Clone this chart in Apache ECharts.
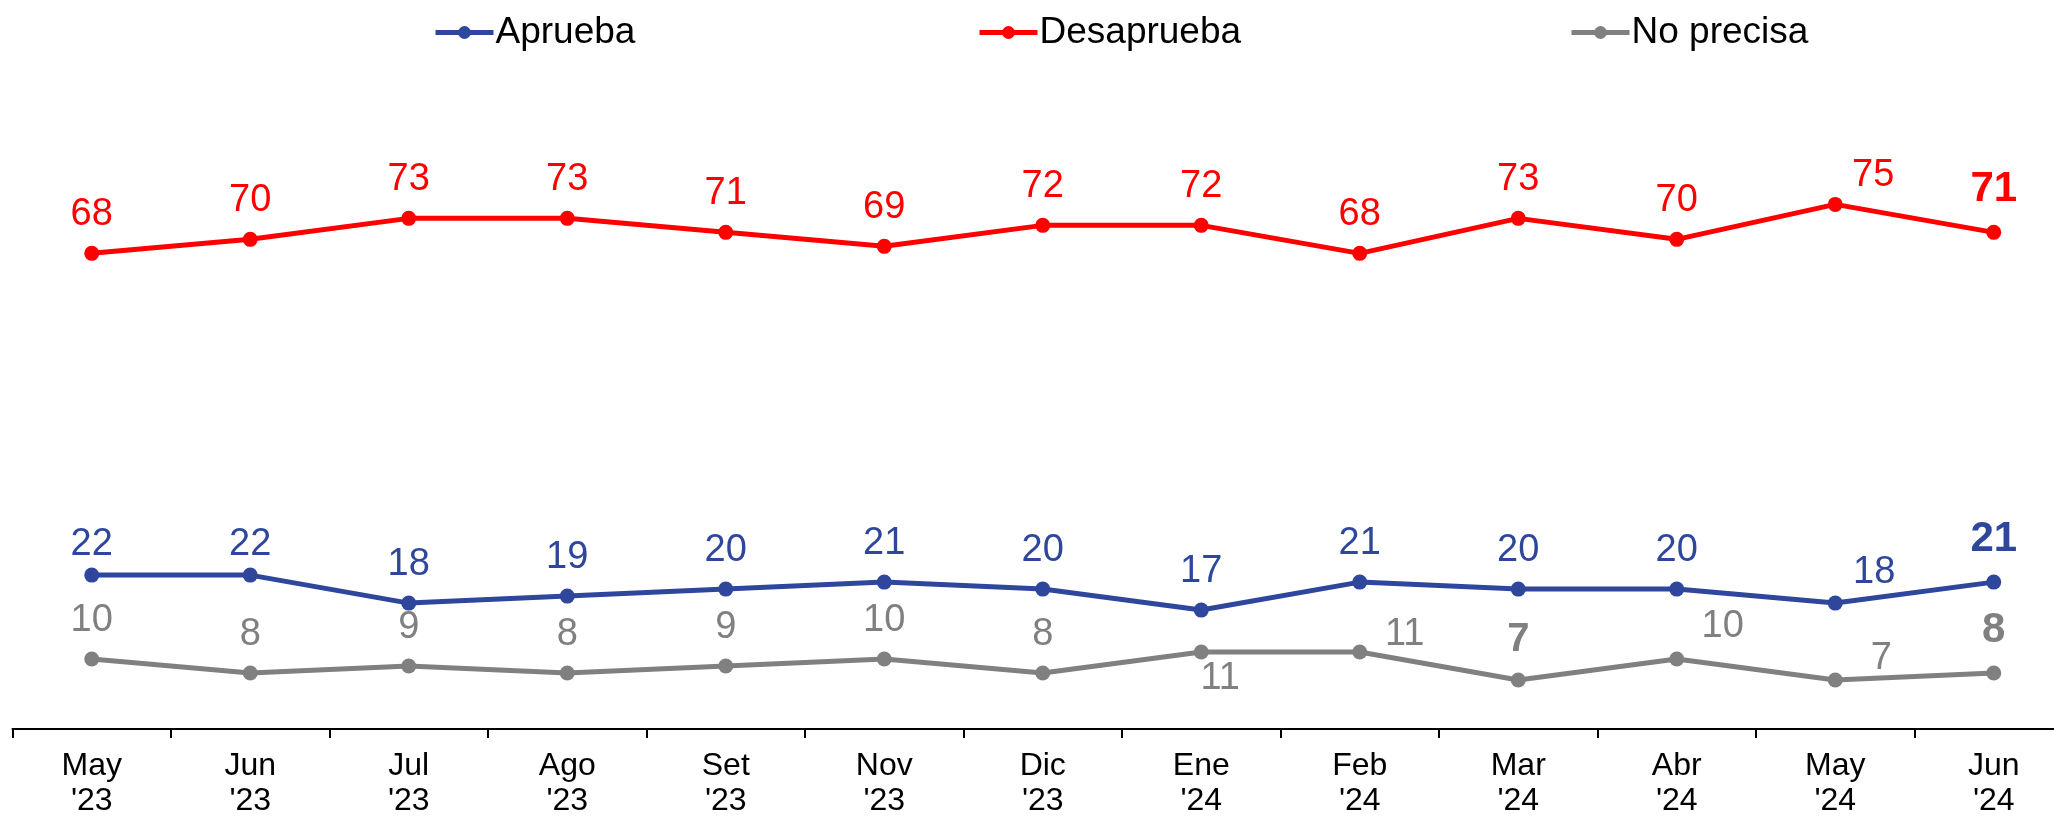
<!DOCTYPE html>
<html>
<head>
<meta charset="utf-8">
<script src="https://cdn.jsdelivr.net/npm/echarts@6/dist/echarts.min.js"></script>
<style>
html,body{margin:0;padding:0;background:#fff;overflow:hidden;width:2054px;height:819px;}
#chart{width:2080px;height:819px;}
</style>
</head>
<body>
<div id="chart"></div>
<script>
// ---- data ----
const categories = ["May\n'23","Jun\n'23","Jul\n'23","Ago\n'23","Set\n'23","Nov\n'23","Dic\n'23","Ene\n'24","Feb\n'24","Mar\n'24","Abr\n'24","May\n'24","Jun\n'24"];
const seriesNames = ["Aprueba","Desaprueba","No precisa"];
const aprueba    = [22,22,18,19,20,21,20,17,21,20,20,18,21];
const desaprueba = [68,70,73,73,71,69,72,72,68,73,70,75,71];
const noPrecisa  = [10,8,9,8,9,10,8,11,11,7,10,7,8];

// ---- styles ----
const FONT = "'Liberation Sans', Arial, Helvetica, sans-serif";
const colors = {"Aprueba":"#2E479C","Desaprueba":"#FF0000","No precisa":"#808080"};
const baseOffset = [0,-39];
const LBL = 38;
const labelOverrides = {
  "Aprueba": {0:{offset:[0,-31]},1:{offset:[0,-31]},11:{offset:[39,-31]},12:{offset:[0,-43],bold:true,size:42}},
  "Desaprueba": {11:{offset:[38,-29]},12:{offset:[0,-43],bold:true,size:42}},
  "No precisa": {7:{offset:[19,26]},8:{offset:[45,-18]},9:{offset:[0,-40],bold:true,size:40},10:{offset:[46,-33]},11:{offset:[46,-22]},12:{offset:[0,-43],bold:true,size:42}}
};

function buildData(name, values){
  const ov = labelOverrides[name] || {};
  return values.map((v,i)=>{
    const o = ov[i];
    if(!o) return v;
    return {value:v,label:{offset:o.offset||baseOffset,fontWeight:o.bold?'bold':'normal',fontSize:o.size||LBL}};
  });
}

function makeSeries(name, values){
  return {
    name:name,
    type:'line',
    data:buildData(name, values),
    symbol:'circle',
    symbolSize:15,
    lineStyle:{width:5,color:colors[name]},
    itemStyle:{color:colors[name]},
    label:{show:true,position:'inside',offset:baseOffset,color:colors[name],fontSize:LBL,fontFamily:FONT},
    emphasis:{disabled:true},
    animation:false,
    z:3
  };
}

const legendLefts = [428,972,1564];
const chart = echarts.init(document.getElementById('chart'),null,{renderer:'canvas'});
chart.setOption({
  backgroundColor:'#fff',
  animation:false,
  legend: seriesNames.map((n,i)=>({
    data:[n], left:legendLefts[i], top:9, itemWidth:58, itemHeight:16, itemGap:0,
    lineStyle:{width:5},
    textStyle:{fontSize:37,fontFamily:FONT,color:'#000',padding:[0,0,0,-3]},
    selectedMode:false
  })),
  grid:{left:12.5,top:29.5,width:2060.5,height:707,containLabel:false},
  xAxis:{
    type:'category', data:categories, boundaryGap:true,
    axisLine:{lineStyle:{color:'#000',width:2}},
    axisTick:{show:true,length:9,lineStyle:{color:'#000',width:2}},
    axisLabel:{color:'#000',fontSize:32,fontFamily:FONT,lineHeight:35,margin:20,interval:0}
  },
  yAxis:{type:'value',min:0,max:100,show:false,splitLine:{show:false}},
  series:[makeSeries("Aprueba",aprueba),makeSeries("Desaprueba",desaprueba),makeSeries("No precisa",noPrecisa)]
});
</script>
</body>
</html>
